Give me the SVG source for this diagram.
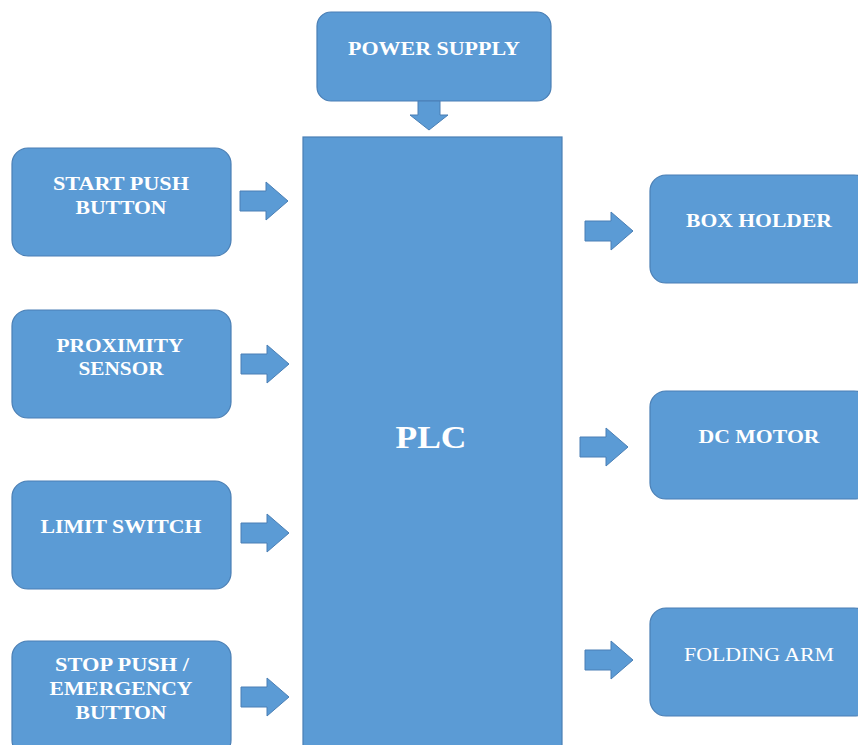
<svg xmlns="http://www.w3.org/2000/svg" width="858" height="745" viewBox="0 0 858 745">
<style>
.box{fill:#5b9bd5;stroke:#4a7fb5;stroke-width:1.2}
.arr{fill:#5b9bd5;stroke:#4a7fb5;stroke-width:1}
.t{font-family:"Liberation Serif",serif;font-weight:bold;font-size:19px;fill:#fff;text-anchor:middle}
.n{font-weight:normal}
.big{font-size:32px}
</style>
<rect width="858" height="745" fill="#fff"/>
<g id="power"><rect class="box" x="317" y="12" width="234" height="89" rx="14"/><text class="t" x="434" y="55" textLength="172" lengthAdjust="spacingAndGlyphs">POWER SUPPLY</text></g>
<g id="plc"><rect class="box" x="303" y="137" width="259" height="620"/><text class="t big" x="431" y="448" textLength="71" lengthAdjust="spacingAndGlyphs">PLC</text></g>
<g id="start"><rect class="box" x="12" y="148" width="219" height="108" rx="16"/><text class="t" x="121" y="190" textLength="136" lengthAdjust="spacingAndGlyphs">START PUSH</text><text class="t" x="121" y="214" textLength="91" lengthAdjust="spacingAndGlyphs">BUTTON</text></g>
<g id="prox"><rect class="box" x="12" y="310" width="219" height="108" rx="16"/><text class="t" x="120" y="352" textLength="127" lengthAdjust="spacingAndGlyphs">PROXIMITY</text><text class="t" x="121" y="375" textLength="85" lengthAdjust="spacingAndGlyphs">SENSOR</text></g>
<g id="limit"><rect class="box" x="12" y="481" width="219" height="108" rx="16"/><text class="t" x="121" y="533" textLength="161" lengthAdjust="spacingAndGlyphs">LIMIT SWITCH</text></g>
<g id="stop"><rect class="box" x="12" y="641" width="219" height="115" rx="16"/><text class="t" x="122" y="671" textLength="134" lengthAdjust="spacingAndGlyphs">STOP PUSH /</text><text class="t" x="121" y="695" textLength="143" lengthAdjust="spacingAndGlyphs">EMERGENCY</text><text class="t" x="121" y="719" textLength="91" lengthAdjust="spacingAndGlyphs">BUTTON</text></g>
<g id="boxholder"><rect class="box" x="650" y="175" width="220" height="108" rx="16"/><text class="t" x="759" y="227" textLength="146" lengthAdjust="spacingAndGlyphs">BOX HOLDER</text></g>
<g id="dcmotor"><rect class="box" x="650" y="391" width="220" height="108" rx="16"/><text class="t" x="759" y="443" textLength="121" lengthAdjust="spacingAndGlyphs">DC MOTOR</text></g>
<g id="folding"><rect class="box" x="650" y="608" width="220" height="108" rx="16"/><text class="t n" x="759" y="661" textLength="150" lengthAdjust="spacingAndGlyphs">FOLDING ARM</text></g>
<g id="connectors">
<path class="arr" d="M418,101 H440 V115 H448 L429,130 L410,115 H418 Z"/>
<path class="arr" d="M240,191 H266 V182 L288,201 L266,220 V211 H240 Z"/>
<path class="arr" d="M241,354 H267 V345 L289,364 L267,383 V374 H241 Z"/>
<path class="arr" d="M241,523 H267 V514 L289,533 L267,552 V543 H241 Z"/>
<path class="arr" d="M241,687 H267 V678 L289,697 L267,716 V707 H241 Z"/>
<path class="arr" d="M585,221 H611 V212 L633,231 L611,250 V241 H585 Z"/>
<path class="arr" d="M580,437 H606 V428 L628,447 L606,466 V457 H580 Z"/>
<path class="arr" d="M585,650 H611 V641 L633,660 L611,679 V670 H585 Z"/>
</g>
</svg>
